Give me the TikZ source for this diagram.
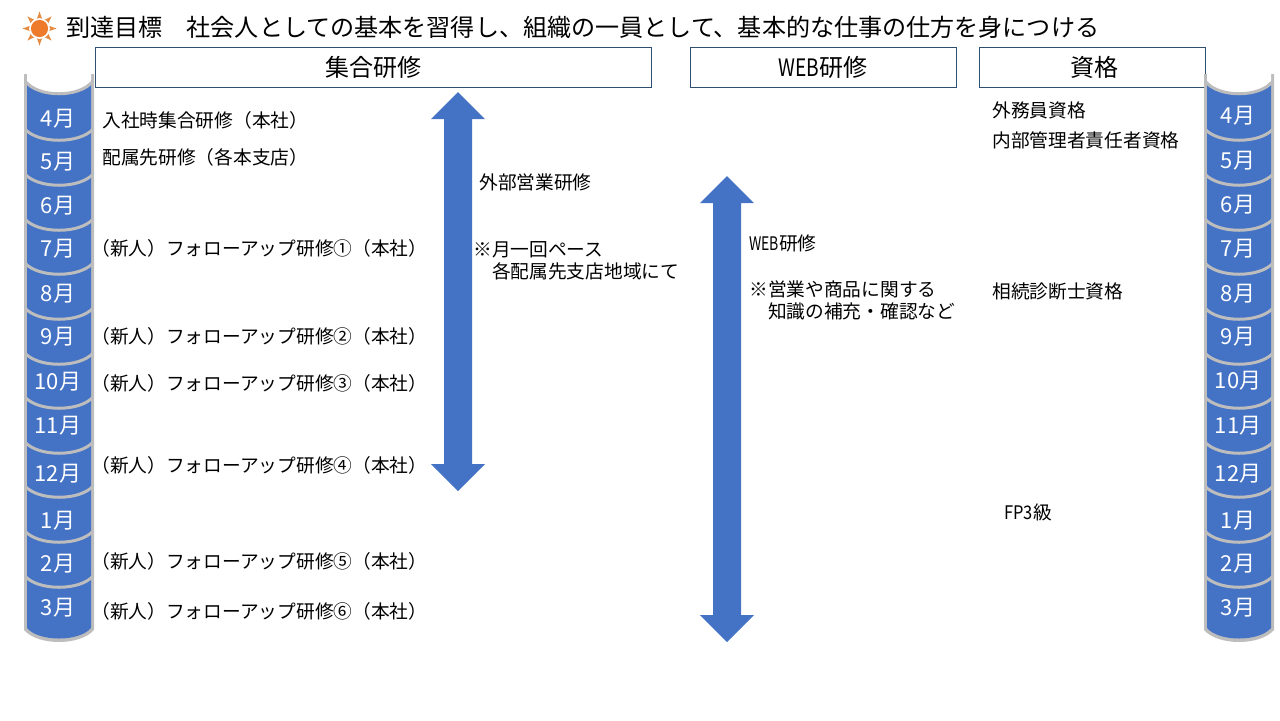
\documentclass[tikz,border=0pt]{standalone}
\usepackage{fontspec}
\setmainfont{Noto Sans CJK JP}
\usetikzlibrary{shapes.geometric}
\definecolor{block}{HTML}{4472C4}
\definecolor{rim}{HTML}{BDBDBD}
\definecolor{frame}{HTML}{2F4F70}
\definecolor{sunray}{HTML}{E58B42}
\definecolor{suncore}{HTML}{EE7B2C}
\begin{document}
\begin{tikzpicture}[
x=0.5pt,y=-0.5pt,
head/.style={draw=frame,fill=white,line width=0.5pt,minimum height=20pt,inner sep=0pt,font=\fontsize{12}{14}\selectfont},
month/.style={text=white,inner sep=0pt,font=\fontsize{11}{12}\selectfont},
item/.style={anchor=west,inner sep=0pt,align=left,font=\fontsize{9.35}{11}\selectfont},
span/.style={fill=block,draw=none},
monthcol/.pic={
\fill[rim] (0,74)--(70,74)--(70,630) .. controls +(-14,16) and +(14,16) .. (0,630)--cycle;
\fill[block] (3,80)--(67,80)--(67,628) .. controls +(-12,14) and +(12,14) .. (3,628)--cycle;
\fill[white] (3,72) rectangle (67,82) (3,81) .. controls +(12,16) and +(-12,16) .. (67,81)--cycle;
\draw[rim,line width=1.5pt] (1,81) .. controls +(13,17) and +(-13,17) .. (69,81);
\foreach \c in {141,186,231,275,320,365,409,454,498,543,588}
  \draw[rim,line width=1.5pt] (1,\c-12) .. controls +(13,15) and +(-13,15) .. (69,\c-12);
}
]
\useasboundingbox (0,0) rectangle (1280,720);
% title
\node[star,star points=8,star point ratio=2,fill=sunray,minimum size=17pt,inner sep=0pt] (sunrays) at (39.5,28.5) {};
\node[circle,fill=white,minimum size=10.4pt,inner sep=0pt] (sungap) at (39.5,28.5) {};
\node[circle,fill=suncore,minimum size=8.6pt,inner sep=0pt] (suncore) at (39.5,28.5) {};
\node[anchor=west,inner sep=0pt,font=\fontsize{12.04}{14}\selectfont] (title) at (66,27) {到達目標　社会人としての基本を習得し、組織の一員として、基本的な仕事の仕方を身につける};
% column heads
\node[head,minimum width=278pt] (hgroup) at (373,67) {集合研修};
\node[head,minimum width=133pt] (hweb) at (823,67) {\scalebox{.8}[1]{WEB}研修};
\node[head,minimum width=113pt] (hqual) at (1092,67) {\hspace{2pt}資格};
% month columns
\pic (lcol) at (24,0) {monthcol};
\pic (rcol) at (1204,0) {monthcol};
\node[month] (l4) at (58,119) {4月};
\node[month] (l5) at (58,162) {5月};
\node[month] (l6) at (58,206) {6月};
\node[month] (l7) at (58,249) {7月};
\node[month] (l8) at (58,294) {8月};
\node[month] (l9) at (58,337) {9月};
\node[month] (l10) at (58,382) {10月};
\node[month] (l11) at (58,426) {11月};
\node[month] (l12) at (58,474) {12月};
\node[month] (l1) at (58,521) {1月};
\node[month] (l2) at (58,564) {2月};
\node[month] (l3) at (58,608) {3月};
\node[month] (r4) at (1238,116) {4月};
\node[month] (r5) at (1238,161) {5月};
\node[month] (r6) at (1238,205) {6月};
\node[month] (r7) at (1238,249) {7月};
\node[month] (r8) at (1238,294) {8月};
\node[month] (r9) at (1238,337) {9月};
\node[month] (r10) at (1238,381) {10月};
\node[month] (r11) at (1238,426) {11月};
\node[month] (r12) at (1238,474) {12月};
\node[month] (r1) at (1238,521) {1月};
\node[month] (r2) at (1238,564) {2月};
\node[month] (r3) at (1238,608) {3月};
% period arrows
\fill[span] (458,92)--(485,119)--(472,119)--(472,464)--(485,464)--(458,491)--(431,464)--(444,464)--(444,119)--(431,119)--cycle;
\fill[span] (727,176)--(754,203)--(741,203)--(741,615)--(754,615)--(727,642)--(700,615)--(713,615)--(713,203)--(700,203)--cycle;
% group training
\node[item] (t1) at (102,120) {入社時集合研修（本社）};
\node[item] (t2) at (102,157) {配属先研修（各本支店）};
\node[item] (t3) at (91,248) {（新人）フォローアップ研修①（本社）};
\node[item] (t4) at (91,336) {（新人）フォローアップ研修②（本社）};
\node[item] (t5) at (91,383) {（新人）フォローアップ研修③（本社）};
\node[item] (t6) at (91,465) {（新人）フォローアップ研修④（本社）};
\node[item] (t7) at (91,561) {（新人）フォローアップ研修⑤（本社）};
\node[item] (t8) at (91,611) {（新人）フォローアップ研修⑥（本社）};
\node[item] (ext) at (479,182) {外部営業研修};
\node[item] (extnote) at (473,261) {※月一回ペース\\　各配属先支店地域にて};
% web training
\node[item] (web) at (749,243) {\scalebox{.75}[1]{WEB}研修};
\node[item] (webnote) at (749,300) {※営業や商品に関する\\　知識の補充・確認など};
% qualifications
\node[item] (q1) at (992,110) {外務員資格};
\node[item] (q2) at (992,140) {内部管理者責任者資格};
\node[item] (q3) at (992,291) {相続診断士資格};
\node[item] (q4) at (1004,512) {\scalebox{.88}[1]{FP3}級};
\end{tikzpicture}
\end{document}
